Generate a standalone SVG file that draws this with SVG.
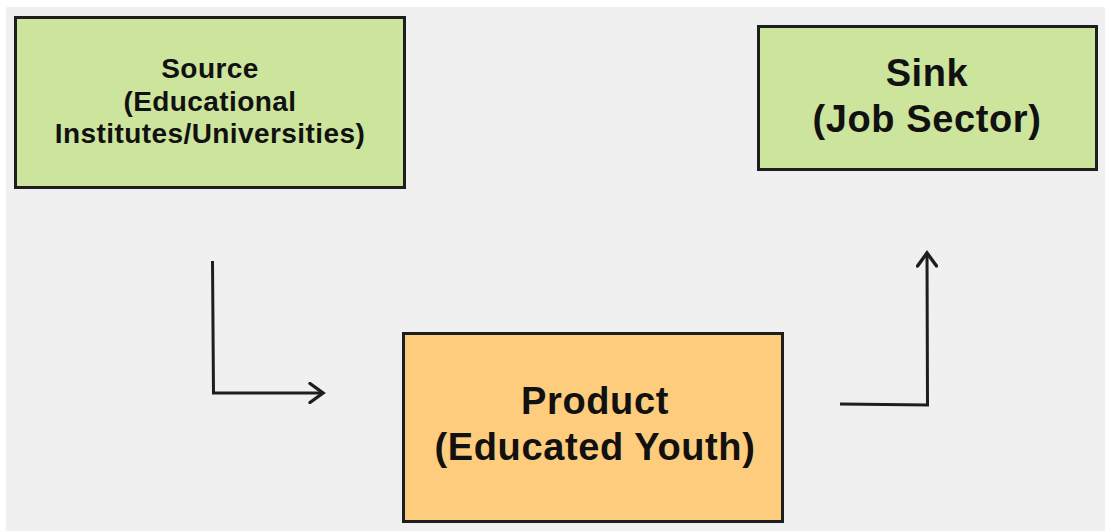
<svg xmlns="http://www.w3.org/2000/svg" width="1105" height="531" viewBox="0 0 1105 531">
<style>
.box{stroke:#1e1e1e;stroke-width:3}
.green{fill:#cde49d}
.orange{fill:#fdcc7c}
.t{font-family:"Liberation Sans",Arial,sans-serif;font-weight:bold;fill:#111;text-anchor:middle}
.s{font-size:28px;letter-spacing:0.42px}
.l{font-size:38px;letter-spacing:0.62px}
.conn{fill:none;stroke:#1e1e1e;stroke-width:3;stroke-linecap:butt;stroke-linejoin:miter}
</style>
<defs>
<marker id="arr" viewBox="0 0 22 22" refX="19" refY="11" markerWidth="22" markerHeight="22" markerUnits="userSpaceOnUse" orient="auto">
<path d="M6,1.5 L19,11 L6,20.5" fill="none" stroke="#1e1e1e" stroke-width="3.4" stroke-linecap="round" stroke-linejoin="miter"/>
</marker>
</defs>
<rect x="0" y="0" width="1105" height="531" fill="#ffffff"/>
<rect x="6" y="7" width="1099" height="524" fill="#f0f0f0"/>
<g id="source">
<rect class="box green" x="15.5" y="17.5" width="389" height="170"/>
<text class="t s" x="210" y="78">Source</text>
<text class="t s" x="210" y="111">(Educational</text>
<text class="t s" x="210" y="143">Institutes/Universities)</text>
</g>
<g id="sink">
<rect class="box green" x="758.5" y="26.5" width="338" height="143"/>
<text class="t l" x="927" y="86">Sink</text>
<text class="t l" x="927" y="132">(Job Sector)</text>
</g>
<g id="product">
<rect class="box orange" x="403.5" y="333.5" width="379" height="188"/>
<text class="t l" x="595" y="414">Product</text>
<text class="t l" x="595" y="460">(Educated Youth)</text>
</g>
<g id="connectors">
<path class="conn" d="M212.5,261 L213.5,393 L323,393" marker-end="url(#arr)"/>
<path class="conn" d="M840,404 L927.5,405 L927,253" marker-end="url(#arr)"/>
</g>
</svg>
